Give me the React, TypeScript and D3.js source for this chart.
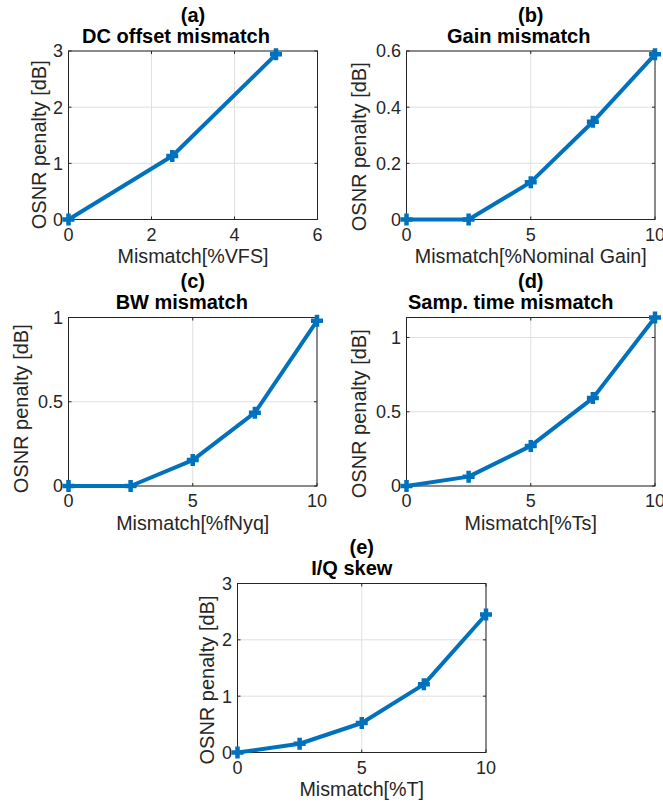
import React from "react";
import * as d3 from "d3";

// ---- data ----
const xA = [0, 2.5, 5];
const yA = [0, 1.13, 2.94];
const xB = [0, 2.5, 5, 7.5, 10];
const yB = [0, 0, 0.133, 0.348, 0.588];
const xC = [0, 2.5, 5, 7.5, 10];
const yC = [0, 0, 0.154, 0.435, 0.98];
const xD = [0, 2.5, 5, 7.5, 10];
const yD = [0, 0.063, 0.27, 0.592, 1.135];
const xE = [0, 2.5, 5, 7.5, 10];
const yE = [0, 0.155, 0.524, 1.21, 2.45];

const xTicksA = [0, 2, 4, 6];
const xTicks10 = [0, 5, 10];
const yTicksA = [0, 1, 2, 3];
const yTicksB = [0, 0.2, 0.4, 0.6];
const yTicksC = [0, 0.5, 1];
const yTicksD = [0, 0.5, 1];
const yTicksE = [0, 1, 2, 3];

const tags = ["(a)", "(b)", "(c)", "(d)", "(e)"];
const titles = ["DC offset mismatch", "Gain mismatch", "BW mismatch", "Samp. time mismatch", "I/Q skew"];
const xLabels = ["Mismatch[%VFS]", "Mismatch[%Nominal Gain]", "Mismatch[%fNyq]", "Mismatch[%Ts]", "Mismatch[%T]"];
const yLabel = "OSNR penalty [dB]";

const W = 663;
const H = 805;
const FONT = "'Liberation Sans', Arial, Helvetica, sans-serif";
const BLUE = "#0072BD";
const AX = "#262626";
const GRID = "#dfdfdf";

type PanelSpec = {
  x: number[];
  y: number[];
  xDomain: [number, number];
  yDomain: [number, number];
  xTicks: number[];
  yTicks: number[];
  box: { l: number; r: number; t: number; b: number };
  titleDx: number;
  yLabOff: number;
  yLabDy: number;
};

const panels: PanelSpec[] = [
  { x: xA, y: yA, xDomain: [0, 6], yDomain: [0, 3], xTicks: xTicksA, yTicks: yTicksA, box: { l: 68.5, r: 317.5, t: 51, b: 219.5 }, titleDx: -17, yLabOff: 22.5, yLabDy: 9.5 },
  { x: xB, y: yB, xDomain: [0, 10], yDomain: [0, 0.6], xTicks: xTicks10, yTicks: yTicksB, box: { l: 406.5, r: 655, t: 51, b: 219.5 }, titleDx: -12, yLabOff: 40.5, yLabDy: 11.5 },
  { x: xC, y: yC, xDomain: [0, 10], yDomain: [0, 1], xTicks: xTicks10, yTicks: yTicksC, box: { l: 68.5, r: 317, t: 317.5, b: 486 }, titleDx: -11, yLabOff: 41, yLabDy: 7 },
  { x: xD, y: yD, xDomain: [0, 10], yDomain: [0, 1.135], xTicks: xTicks10, yTicks: yTicksD, box: { l: 406.5, r: 655, t: 317.5, b: 486 }, titleDx: -20, yLabOff: 40.5, yLabDy: 12 },
  { x: xE, y: yE, xDomain: [0, 10], yDomain: [0, 3], xTicks: xTicks10, yTicks: yTicksE, box: { l: 237.5, r: 486, t: 583.5, b: 752.5 }, titleDx: -10, yLabOff: 23.5, yLabDy: 12 },
];

function fmt(v: number) {
  return String(+v.toFixed(3));
}

function Panel({ p, i }: { p: PanelSpec; i: number }) {
  const { l, r, t, b } = p.box;
  const xs = d3.scaleLinear().domain(p.xDomain).range([l, r]);
  const ys = d3.scaleLinear().domain(p.yDomain).range([b, t]);
  const pts = p.x.map((xv, k) => [xs(xv), ys(p.y[k])] as [number, number]);
  const line = d3.line()(pts) || "";
  const tl = 3;
  const cx = (l + r) / 2;
  const cy = (t + b) / 2;
  const m = 6;
  return (
    <g>
      {p.xTicks.map((v) => (
        <line key={"gx" + v} x1={xs(v)} x2={xs(v)} y1={t} y2={b} stroke={GRID} strokeWidth={1} />
      ))}
      {p.yTicks.map((v) => (
        <line key={"gy" + v} x1={l} x2={r} y1={ys(v)} y2={ys(v)} stroke={GRID} strokeWidth={1} />
      ))}
      <rect x={l} y={t} width={r - l} height={b - t} fill="none" stroke={AX} strokeWidth={1} />
      {p.xTicks.map((v) => (
        <g key={"tx" + v}>
          <line x1={xs(v)} x2={xs(v)} y1={b} y2={b - tl} stroke={AX} />
          <line x1={xs(v)} x2={xs(v)} y1={t} y2={t + tl} stroke={AX} />
          <text x={xs(v)} y={b + 21} textAnchor="middle" fontSize={18} fill={AX} fontFamily={FONT}>
            {fmt(v)}
          </text>
        </g>
      ))}
      {p.yTicks.map((v) => (
        <g key={"ty" + v}>
          <line x1={l} x2={l + tl} y1={ys(v)} y2={ys(v)} stroke={AX} />
          <line x1={r} x2={r - tl} y1={ys(v)} y2={ys(v)} stroke={AX} />
          <text x={l - 5.5} y={ys(v) + 6.4} textAnchor="end" fontSize={18} fill={AX} fontFamily={FONT}>
            {fmt(v)}
          </text>
        </g>
      ))}
      <path d={line} fill="none" stroke={BLUE} strokeWidth={4} strokeLinejoin="round" />
      {pts.map(([px, py], k) => (
        <path key={"m" + k} d={`M${px - m},${py}H${px + m}M${px},${py - m}V${py + m}`} stroke={BLUE} strokeWidth={4.5} fill="none" />
      ))}
      <text x={cx} y={t - 29.5} textAnchor="middle" fontSize={20} fontWeight="bold" fill="#000" fontFamily={FONT}>
        {tags[i]}
      </text>
      <text x={cx + p.titleDx} y={t - 8.5} textAnchor="middle" fontSize={20} fontWeight="bold" fill="#000" fontFamily={FONT}>
        {titles[i]}
      </text>
      <text x={cx} y={b + 43.5} textAnchor="middle" fontSize={19.7} fill={AX} fontFamily={FONT}>
        {xLabels[i]}
      </text>
      <text
        transform={`translate(${l - p.yLabOff},${cy + p.yLabDy}) rotate(-90)`}
        textAnchor="middle"
        fontSize={20}
        fill={AX}
        fontFamily={FONT}
      >
        {yLabel}
      </text>
    </g>
  );
}

export default function App() {
  return (
    <svg
      width={W}
      height={H}
      viewBox={`0 0 ${W} ${H}`}
      style={{ position: "absolute", left: 0, top: 0, background: "#fff" }}
    >
      <rect x={0} y={0} width={W} height={H} fill="#fff" />
      {panels.map((p, i) => (
        <Panel key={i} p={p} i={i} />
      ))}
    </svg>
  );
}
